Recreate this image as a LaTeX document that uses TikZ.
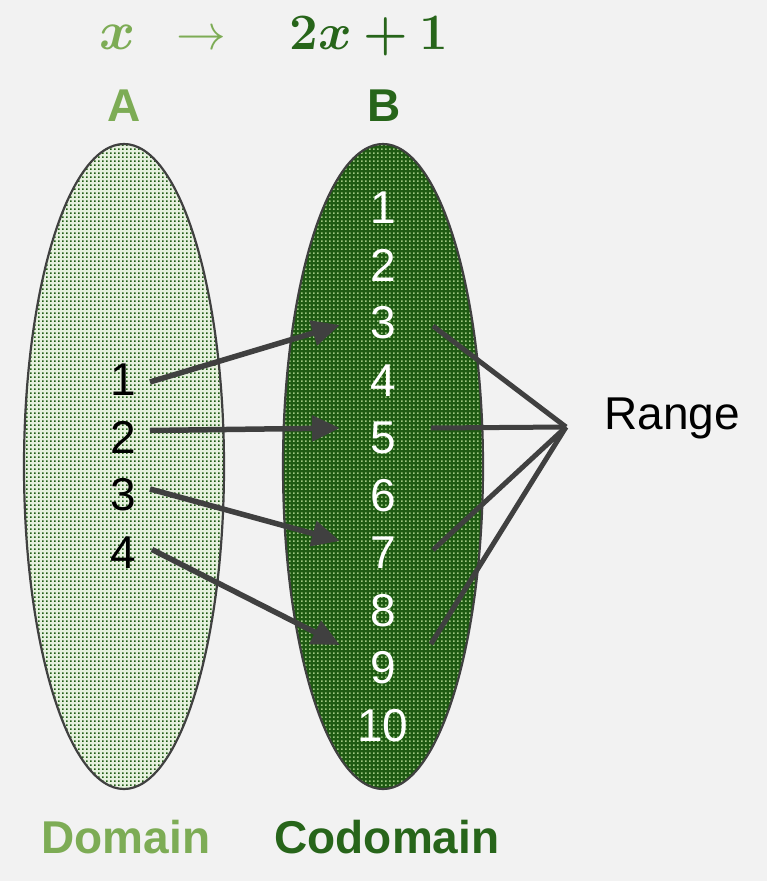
\documentclass[tikz,border=0pt]{standalone}
\usepackage{amsmath,bm}
\usepackage{fontspec}
\setmainfont{Liberation Sans}
\usetikzlibrary{calc, arrows.meta, patterns.meta, positioning}
\definecolor{bggray}{HTML}{F2F2F2}
\definecolor{lgreen}{HTML}{7DAC55}
\definecolor{dgreen}{HTML}{27651A}
\definecolor{deepgreen}{HTML}{1E5A12}
\definecolor{paledot}{HTML}{E6F1DE}
\definecolor{lightdot}{HTML}{9EC882}
\definecolor{edgegray}{HTML}{404040}
\tikzdeclarepattern{
  name=squaredots,
  type=uncolored,
  bounding box={(0pt,0pt) and (3.8pt,3.8pt)},
  tile size={(3.8pt,3.8pt)},
  code={\fill (0pt,0pt) rectangle (1.7pt,1.7pt);}
}
\tikzset{>={Triangle[length=28pt,width=25pt]},
  num/.style={font=\fontsize{46}{46}\selectfont, inner sep=0pt},
  title/.style={font=\fontsize{46}{46}\selectfont\bfseries, inner sep=0pt},
  rule/.style={anchor=base, inner sep=0pt, font=\Huge},
  maparrow/.style={edgegray, line width=5.5pt, ->},
  rangeline/.style={edgegray, line width=5pt},
  setshape/.style={draw=edgegray, line width=2.2pt}}

\begin{document}
\begin{tikzpicture}[x=1pt, y=-1pt]
\fill[bggray] (0,0) rectangle (767,881);
\useasboundingbox (0,0) rectangle (767,881);
% the two sets
\fill[paledot] (124,466.5) ellipse [x radius=100, y radius=322.5];
\fill[pattern=squaredots, pattern color=deepgreen] (124,466.5) ellipse [x radius=100, y radius=322.5];
\draw[setshape] (124,466.5) ellipse [x radius=100, y radius=322.5];
\fill[deepgreen] (383,466.5) ellipse [x radius=100, y radius=322.5];
\fill[pattern=squaredots, pattern color=lightdot] (383,466.5) ellipse [x radius=100, y radius=322.5];
\draw[setshape] (383,466.5) ellipse [x radius=100, y radius=322.5];
% rule
\node[rule, lgreen] (mx) at (118,49) {\scalebox{2.2}{$\bm{x}$}};
\node[rule, lgreen] (mto) at (201,49) {\scalebox{2}{$\rightarrow$}};
\node[rule, dgreen] (mfx) at (369,49) {\scalebox{2.05}{$\bm{2x+1}$}};
\node[title, lgreen] (setA) at (124,106) {A};
\node[title, dgreen] (setB) at (384,106) {B};
\node[title, lgreen] (dom) at (126,837) {Domain};
\node[title, dgreen] (codom) at (387,837) {Codomain};
% elements
\foreach \i in {1,...,4}
  \node[num] (a\i) at (123,{322.5+57.5*\i}) {\i};
\foreach \i in {1,...,10}
  \node[num, white] (b\i) at (383,{150.5+57.5*\i}) {\i};
\node[num] (range) at (672,418) {Range};
\coordinate (rg) at ($(range.west)+(-38,9)$);
% mapping
\draw[maparrow] ($(a1.east)+(14,2)$) -- ($(b3.west)+(-30,2)$);
\draw[maparrow] ($(a2.east)+(14,-7)$) -- ($(b5.west)+(-30,-10)$);
\draw[maparrow] ($(a3.east)+(14,-6)$) -- ($(b7.west)+(-30,-12)$);
\draw[maparrow] ($(a4.east)+(16,-3)$) -- ($(b9.west)+(-30,-23)$);
\path
(rg) edge[rangeline] ($(b3.east)+(37,3)$)
(rg) edge[rangeline] ($(b5.east)+(35,-10)$)
(rg) edge[rangeline] ($(b7.east)+(37,-3)$)
(rg) edge[rangeline] ($(b9.east)+(35,-24)$);
\end{tikzpicture}
\end{document}
